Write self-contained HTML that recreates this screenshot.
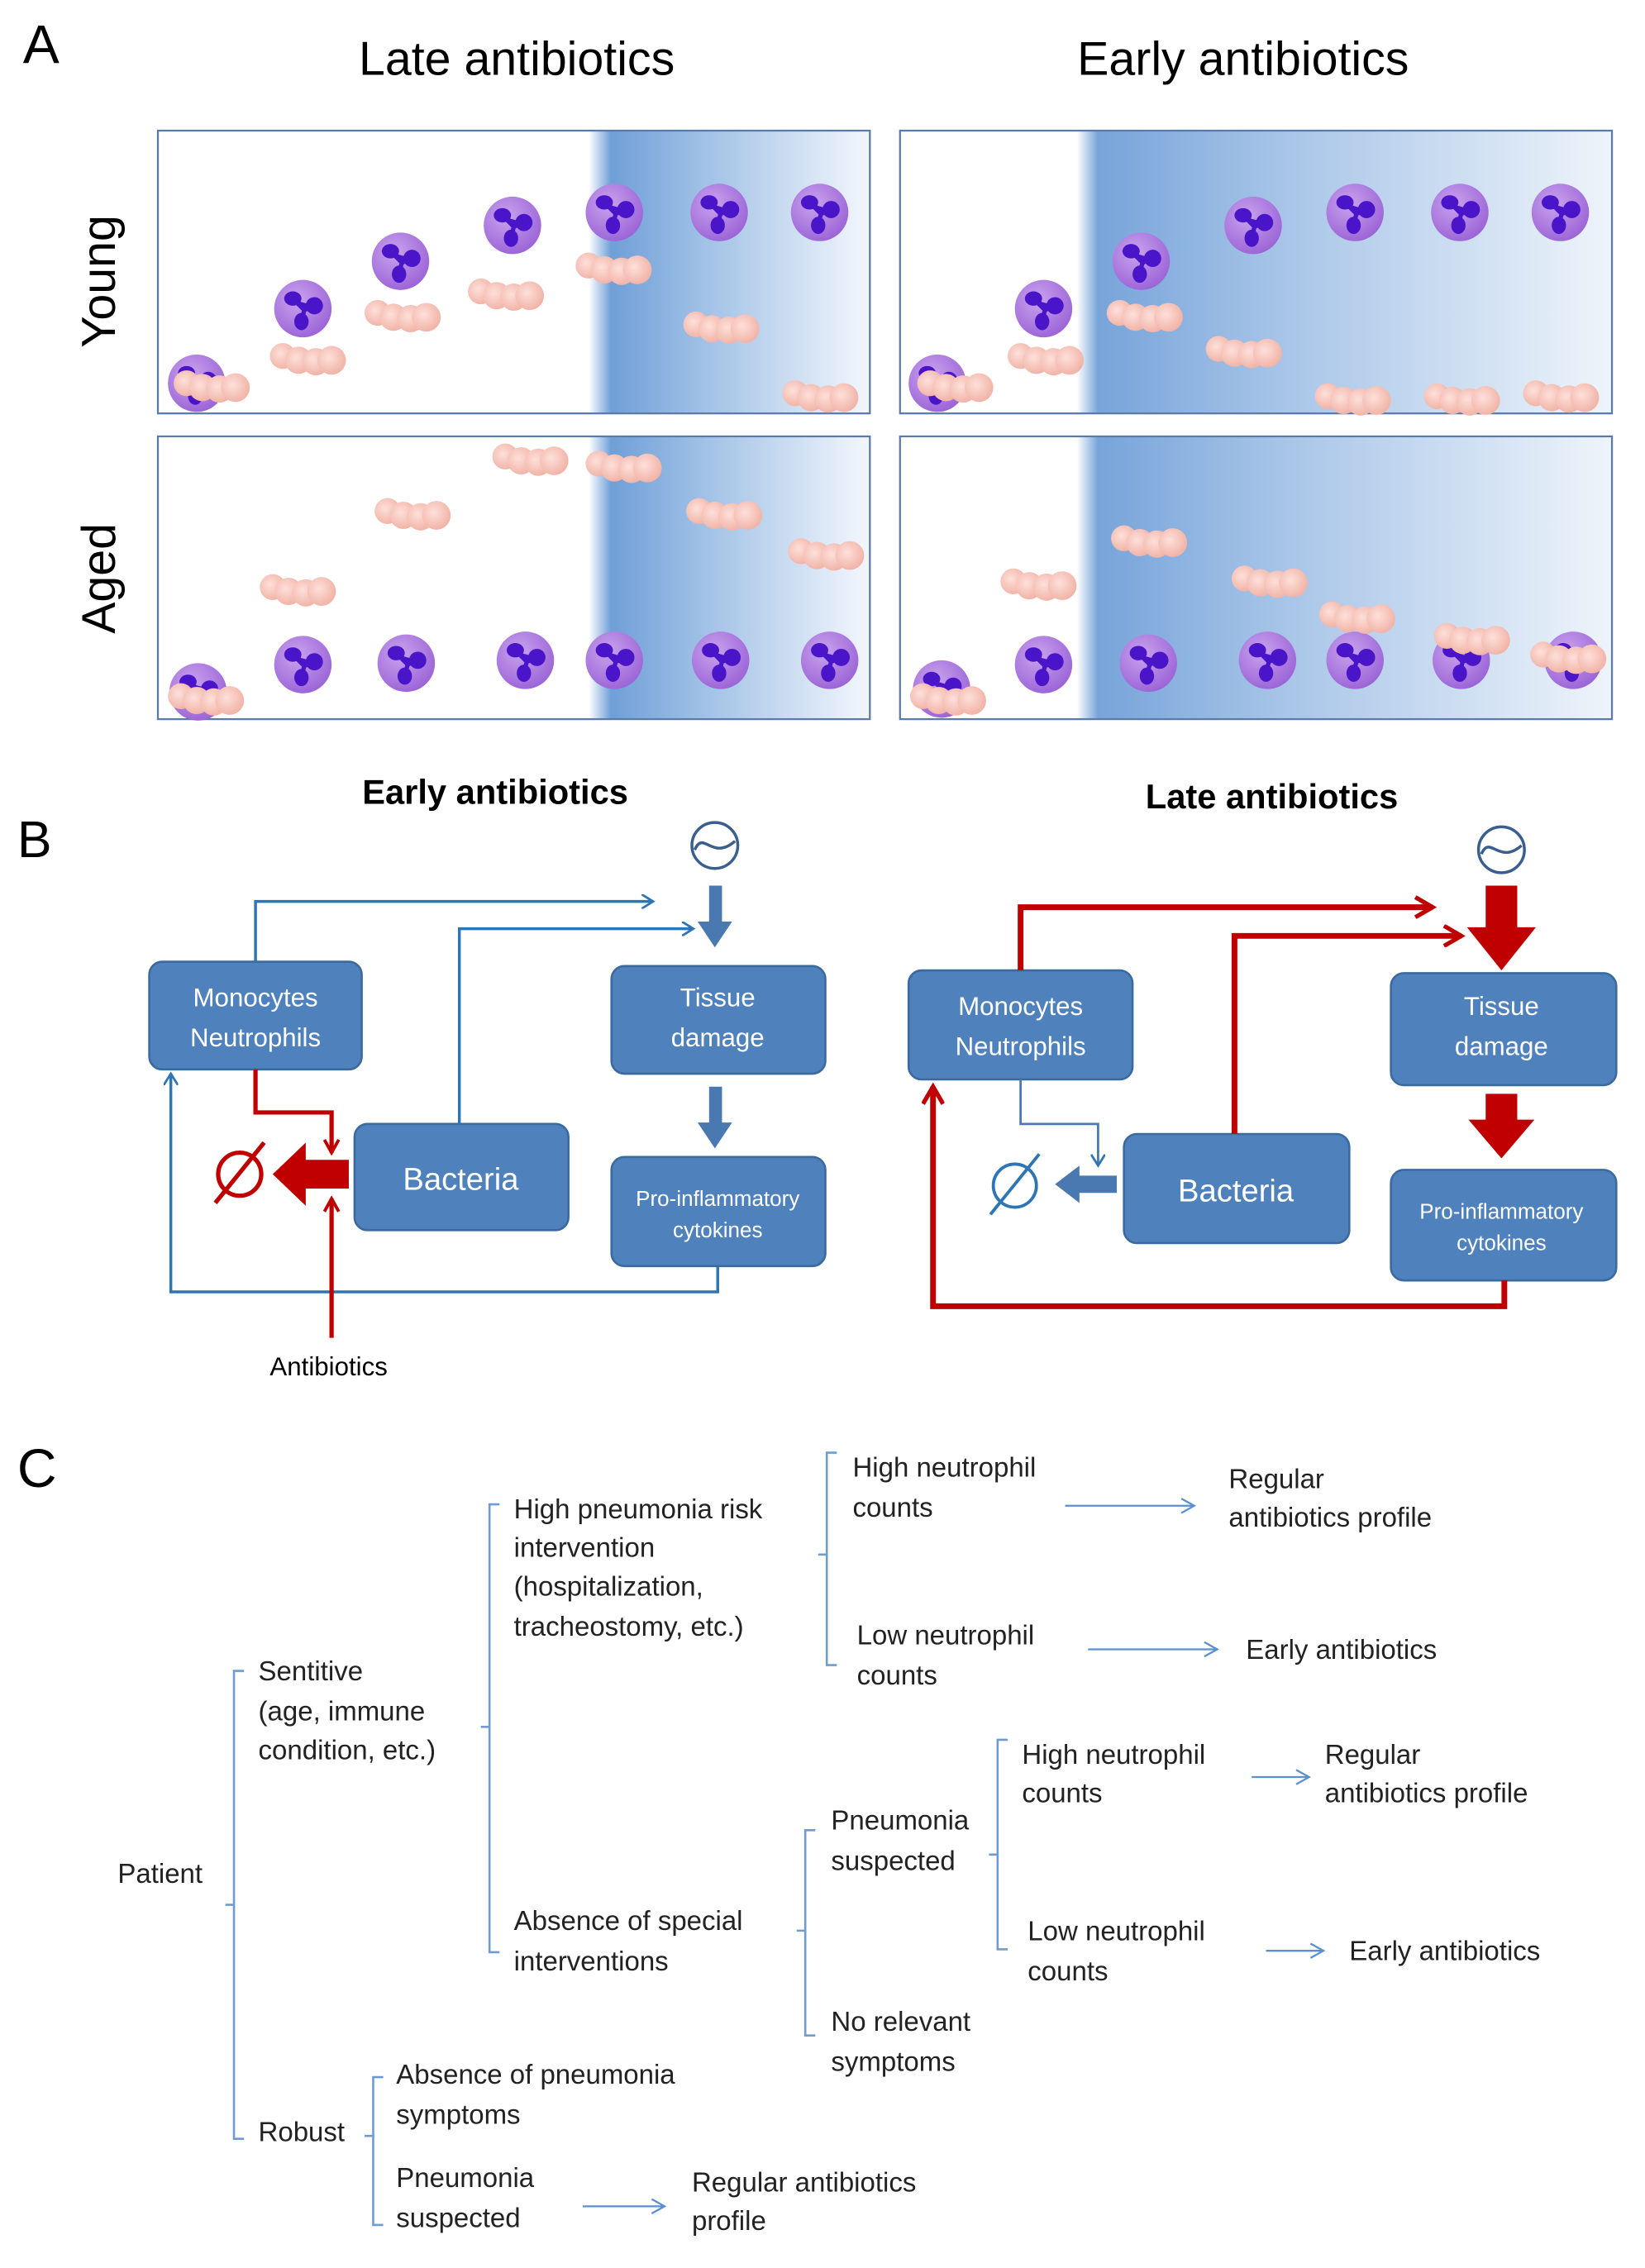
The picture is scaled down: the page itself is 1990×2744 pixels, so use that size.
<!DOCTYPE html>
<html><head><meta charset="utf-8"><style>
html,body{margin:0;padding:0;background:#fff;}
svg{display:block;}
text{font-family:"Liberation Sans",sans-serif;}
</style></head><body>
<svg width="1990" height="2744" viewBox="0 0 1146 1580" preserveAspectRatio="none" xmlns="http://www.w3.org/2000/svg">
<defs>
<radialGradient id="nc" cx="0.4" cy="0.35" r="0.7"><stop offset="0" stop-color="#c9a3ee"/><stop offset="1" stop-color="#9a62d6"/></radialGradient>
<radialGradient id="bc" cx="0.4" cy="0.4" r="0.6"><stop offset="0" stop-color="#fde0da"/><stop offset="1" stop-color="#f2b4a8"/></radialGradient>
<linearGradient id="gl" x1="0" x2="1"><stop offset="0" stop-color="#fff"/><stop offset="0.08" stop-color="#6f9fd8"/><stop offset="0.4" stop-color="#9fc0e6"/><stop offset="1" stop-color="#f3f7fc"/></linearGradient>
<linearGradient id="gr" x1="0" x2="1"><stop offset="0" stop-color="#fff"/><stop offset="0.04" stop-color="#77a4da"/><stop offset="0.4" stop-color="#a9c6e8"/><stop offset="1" stop-color="#eef4fb"/></linearGradient>
<g id="neu"><circle r="20" fill="url(#nc)"/><g fill="#4a14c8"><ellipse cx="-7" cy="-7" rx="6" ry="5"/><ellipse cx="8" cy="-2" rx="6" ry="6"/><ellipse cx="-1" cy="9" rx="5" ry="6"/><path d="M-6 -6 L1 1 L8 -2 M1 1 L-1 8" stroke="#4a14c8" stroke-width="3"/></g></g>
<g id="bac"><circle cx="-18" cy="-2" r="9" fill="url(#bc)"/><circle cx="-7" cy="1" r="9.5" fill="url(#bc)"/><circle cx="5" cy="2" r="9.5" fill="url(#bc)"/><circle cx="16" cy="1" r="10" fill="url(#bc)"/></g>
<marker id="ab" markerWidth="10" markerHeight="10" refX="8" refY="5" orient="auto" markerUnits="userSpaceOnUse"><path d="M0 0 L8 5 L0 10" fill="none" stroke="#2e75b6" stroke-width="1.6"/></marker>
<marker id="ar" markerWidth="16" markerHeight="16" refX="13" refY="8" orient="auto" markerUnits="userSpaceOnUse"><path d="M1 1 L13 8 L1 15" fill="none" stroke="#c00000" stroke-width="3"/></marker>
<marker id="ars" markerWidth="12" markerHeight="12" refX="10" refY="6" orient="auto" markerUnits="userSpaceOnUse"><path d="M1 1 L10 6 L1 11" fill="none" stroke="#c00000" stroke-width="2.2"/></marker>
<marker id="ac" markerWidth="12" markerHeight="12" refX="10" refY="6" orient="auto" markerUnits="userSpaceOnUse"><path d="M1 1 L10 6 L1 11" fill="none" stroke="#5b8fd0" stroke-width="1.3"/></marker>
</defs>

<!-- Panel A -->
<text x="16" y="44" font-size="38">A</text>
<text x="360" y="52" font-size="33" text-anchor="middle">Late antibiotics</text>
<text x="866" y="52" font-size="33" text-anchor="middle">Early antibiotics</text>
<text transform="translate(80,196) rotate(-90)" font-size="33" text-anchor="middle">Young</text>
<text transform="translate(80,403) rotate(-90)" font-size="33" text-anchor="middle">Aged</text>

<rect x="110" y="91" width="496" height="197" fill="#fff"/>
<rect x="410" y="91" width="196" height="197" fill="url(#gl)"/>
<rect x="110" y="91" width="496" height="197" fill="none" stroke="#5a7aa8" stroke-width="1.3"/>
<rect x="627" y="91" width="496" height="197" fill="#fff"/>
<rect x="750" y="91" width="373" height="197" fill="url(#gr)"/>
<rect x="627" y="91" width="496" height="197" fill="none" stroke="#5a7aa8" stroke-width="1.3"/>
<rect x="110" y="304" width="496" height="197" fill="#fff"/>
<rect x="410" y="304" width="196" height="197" fill="url(#gl)"/>
<rect x="110" y="304" width="496" height="197" fill="none" stroke="#5a7aa8" stroke-width="1.3"/>
<rect x="627" y="304" width="496" height="197" fill="#fff"/>
<rect x="750" y="304" width="373" height="197" fill="url(#gr)"/>
<rect x="627" y="304" width="496" height="197" fill="none" stroke="#5a7aa8" stroke-width="1.3"/>

<!-- top-left -->
<use href="#neu" x="137" y="267"/><use href="#neu" x="211" y="215"/><use href="#neu" x="279" y="182"/><use href="#neu" x="357" y="157"/><use href="#neu" x="428" y="148"/><use href="#neu" x="501" y="148"/><use href="#neu" x="571" y="148"/>
<use href="#bac" x="148" y="269"/><use href="#bac" x="215" y="250"/><use href="#bac" x="281" y="220"/><use href="#bac" x="353" y="205"/><use href="#bac" x="428" y="187"/><use href="#bac" x="503" y="228"/><use href="#bac" x="572" y="276"/>
<!-- top-right -->
<use href="#neu" x="653" y="267"/><use href="#neu" x="727" y="215"/><use href="#neu" x="795" y="182"/><use href="#neu" x="873" y="157"/><use href="#neu" x="944" y="148"/><use href="#neu" x="1017" y="148"/><use href="#neu" x="1087" y="148"/>
<use href="#bac" x="666" y="269"/><use href="#bac" x="729" y="250"/><use href="#bac" x="798" y="220"/><use href="#bac" x="867" y="245"/><use href="#bac" x="943" y="278"/><use href="#bac" x="1019" y="278"/><use href="#bac" x="1088" y="276"/>
<!-- bottom-left -->
<use href="#neu" x="138" y="482"/><use href="#neu" x="211" y="463"/><use href="#neu" x="283" y="462"/><use href="#neu" x="366" y="460"/><use href="#neu" x="428" y="460"/><use href="#neu" x="502" y="460"/><use href="#neu" x="578" y="460"/>
<use href="#bac" x="144" y="487"/><use href="#bac" x="208" y="411"/><use href="#bac" x="288" y="358"/><use href="#bac" x="370" y="320"/><use href="#bac" x="435" y="325"/><use href="#bac" x="505" y="358"/><use href="#bac" x="576" y="386"/>
<!-- bottom-right -->
<use href="#neu" x="656" y="480"/><use href="#neu" x="727" y="463"/><use href="#neu" x="800" y="462"/><use href="#neu" x="883" y="460"/><use href="#neu" x="944" y="460"/><use href="#neu" x="1018" y="460"/><use href="#neu" x="1096" y="460"/>
<use href="#bac" x="661" y="487"/><use href="#bac" x="724" y="407"/><use href="#bac" x="801" y="377"/><use href="#bac" x="885" y="405"/><use href="#bac" x="946" y="430"/><use href="#bac" x="1026" y="445"/><use href="#bac" x="1093" y="458"/>

<!-- Panel B -->
<text x="345" y="560" font-size="24" font-weight="bold" text-anchor="middle">Early antibiotics</text>
<text x="886" y="563" font-size="24" font-weight="bold" text-anchor="middle">Late antibiotics</text>
<text x="12" y="597" font-size="36">B</text>

<g fill="#4f81bd" stroke="#3b6a9f" stroke-width="1.5">
<rect x="104" y="670" width="148" height="75" rx="9"/>
<rect x="426" y="673" width="149" height="75" rx="9"/>
<rect x="247" y="783" width="149" height="74" rx="9"/>
<rect x="426" y="806" width="149" height="76" rx="9"/>
<rect x="633" y="676" width="156" height="76" rx="9"/>
<rect x="969" y="678" width="157" height="78" rx="9"/>
<rect x="783" y="790" width="157" height="76" rx="9"/>
<rect x="969" y="815" width="157" height="77" rx="9"/>
</g>
<g fill="#fff" font-size="18" text-anchor="middle">
<text x="178" y="701">Monocytes</text><text x="178" y="729">Neutrophils</text>
<text x="500" y="701">Tissue</text><text x="500" y="729">damage</text>
<text x="321" y="829" font-size="22">Bacteria</text>
<text x="500" y="840" font-size="15">Pro-inflammatory</text><text x="500" y="862" font-size="15">cytokines</text>
<text x="711" y="707">Monocytes</text><text x="711" y="735">Neutrophils</text>
<text x="1046" y="707">Tissue</text><text x="1046" y="735">damage</text>
<text x="861" y="837" font-size="22">Bacteria</text>
<text x="1046" y="849" font-size="15">Pro-inflammatory</text><text x="1046" y="871" font-size="15">cytokines</text>
</g>

<!-- sun symbols -->
<g fill="none" stroke="#3a5f8f" stroke-width="2">
<circle cx="498" cy="589" r="16"/><path d="M484 592 C490 578 496 600 512 586"/>
<circle cx="1046" cy="592" r="16"/><path d="M1032 595 C1038 581 1044 603 1060 589"/>
</g>

<!-- left blue thick arrows -->
<path d="M494 617 H503 V642 H510 L498 660 L486 642 H494 Z" fill="#4a78b0"/>
<path d="M494 757 H503 V782 H510 L498 800 L486 782 H494 Z" fill="#4a78b0"/>
<!-- left thin blue -->
<g fill="none" stroke="#2e75b6" stroke-width="2">
<path d="M178 670 V628 H455" marker-end="url(#ab)"/>
<path d="M320 783 V647 H483" marker-end="url(#ab)"/>
<path d="M500 882 V900 H119 V748" marker-end="url(#ab)"/>
</g>
<!-- left red -->
<g fill="none" stroke="#c00000" stroke-width="3">
<path d="M178 745 V775 H231 V803" marker-end="url(#ars)"/>
<path d="M231 932 V835" marker-end="url(#ars)"/>
</g>
<path d="M243 808 H213 V796 L190 818 L213 840 V828 H243 Z" fill="#c00000"/>
<g fill="none" stroke="#c00000" stroke-width="3"><circle cx="167" cy="818" r="15"/><path d="M150 838 L184 796"/></g>
<text x="229" y="958" font-size="18" text-anchor="middle">Antibiotics</text>

<!-- right red -->
<path d="M1035 617 H1057 V646 H1070 L1046 676 L1022 646 H1035 Z" fill="#c00000"/>
<path d="M1035 762 H1057 V780 H1069 L1046 807 L1023 780 H1035 Z" fill="#c00000"/>
<g fill="none" stroke="#c00000" stroke-width="4">
<path d="M711 676 V632 H998" marker-end="url(#ar)"/>
<path d="M860 790 V652 H1018" marker-end="url(#ar)"/>
<path d="M1048 892 V910 H650 V757" marker-end="url(#ar)"/>
</g>
<!-- right blue -->
<path d="M711 752 V783 H765 V812" fill="none" stroke="#4a78b0" stroke-width="1.6" marker-end="url(#ab)"/>
<path d="M778 819 H752 V812 L735 825 L752 838 V831 H778 Z" fill="#4a78b0"/>
<g fill="none" stroke="#2e75b6" stroke-width="2.2"><circle cx="707" cy="826" r="15"/><path d="M690 846 L724 804"/></g>

<!-- Panel C -->
<text x="12" y="1036" font-size="38">C</text>
<g fill="none" stroke="#6f9bd1" stroke-width="1.5">
<path d="M170 1164 H163 V1490 H170 M163 1327 H157"/>
<path d="M348 1048 H341 V1360 H348 M341 1203 H335"/>
<path d="M583 1012 H576 V1160 H583 M576 1083 H570"/>
<path d="M568 1275 H561 V1418 H568 M561 1345 H555"/>
<path d="M702 1212 H695 V1358 H702 M695 1292 H689"/>
<path d="M267 1447 H260 V1550 H267 M260 1488 H254"/>
</g>
<g fill="none" stroke="#5b8fd0" stroke-width="1.3">
<path d="M742 1049 H832" marker-end="url(#ac)"/>
<path d="M758 1149 H848" marker-end="url(#ac)"/>
<path d="M872 1238 H912" marker-end="url(#ac)"/>
<path d="M882 1359 H922" marker-end="url(#ac)"/>
<path d="M406 1537 H463" marker-end="url(#ac)"/>
</g>
<g font-size="19" fill="#222" dominant-baseline="central">
<text x="82" y="1305">Patient</text>
<text x="180" y="1164">Sentitive</text><text x="180" y="1192">(age, immune</text><text x="180" y="1219">condition, etc.)</text>
<text x="180" y="1485">Robust</text>
<text x="358" y="1051">High pneumonia risk</text><text x="358" y="1078">intervention</text><text x="358" y="1105">(hospitalization,</text><text x="358" y="1133">tracheostomy, etc.)</text>
<text x="358" y="1338">Absence of special</text><text x="358" y="1366">interventions</text>
<text x="594" y="1022">High neutrophil</text><text x="594" y="1050">counts</text>
<text x="856" y="1030">Regular</text><text x="856" y="1057">antibiotics profile</text>
<text x="597" y="1139">Low neutrophil</text><text x="597" y="1167">counts</text>
<text x="868" y="1149">Early antibiotics</text>
<text x="579" y="1268">Pneumonia</text><text x="579" y="1296">suspected</text>
<text x="712" y="1222">High neutrophil</text><text x="712" y="1249">counts</text>
<text x="923" y="1222">Regular</text><text x="923" y="1249">antibiotics profile</text>
<text x="716" y="1345">Low neutrophil</text><text x="716" y="1373">counts</text>
<text x="940" y="1359">Early antibiotics</text>
<text x="579" y="1408">No relevant</text><text x="579" y="1436">symptoms</text>
<text x="276" y="1445">Absence of pneumonia</text><text x="276" y="1473">symptoms</text>
<text x="276" y="1517">Pneumonia</text><text x="276" y="1545">suspected</text>
<text x="482" y="1520">Regular antibiotics</text><text x="482" y="1547">profile</text>
</g>
</svg>
</body></html>
